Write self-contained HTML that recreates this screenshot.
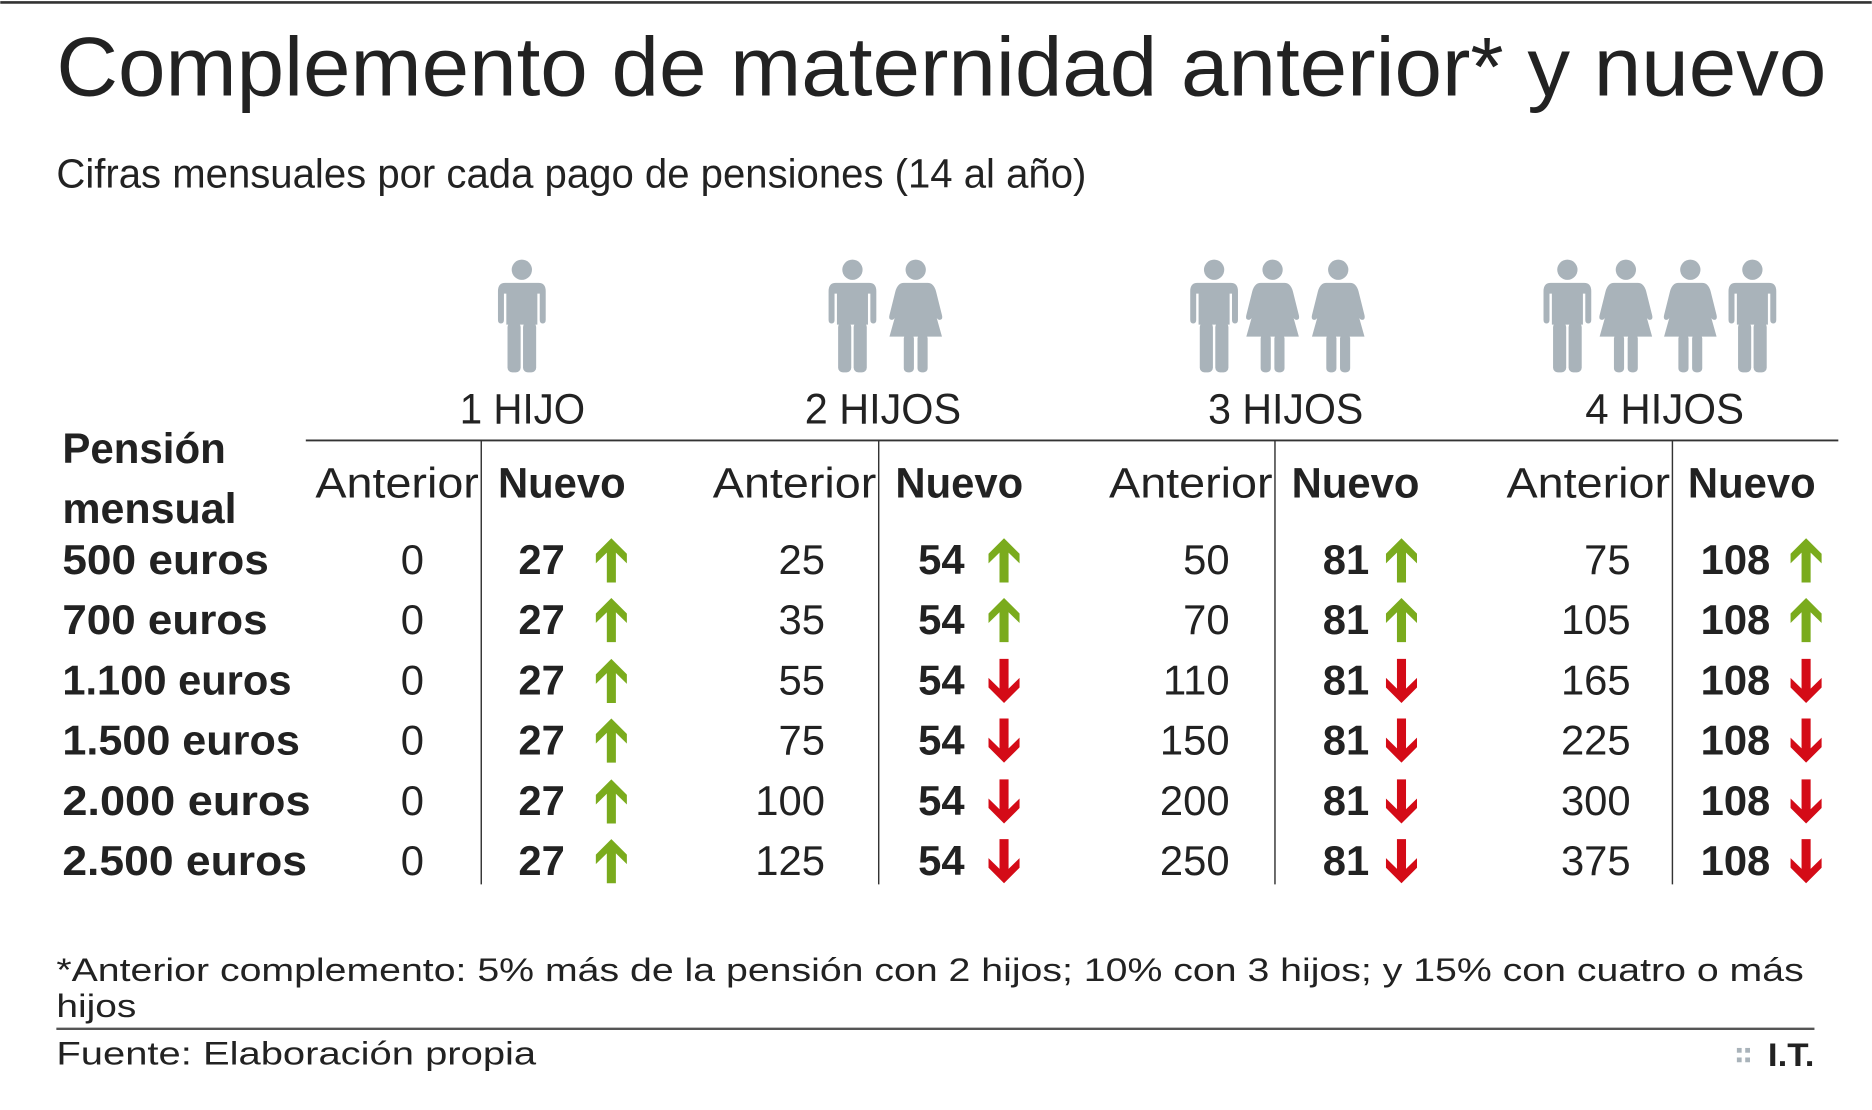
<!DOCTYPE html>
<html><head><meta charset="utf-8"><style>
html,body{margin:0;padding:0;background:#fff;}
svg{display:block;}
text{font-family:"Liberation Sans",sans-serif;fill:#222;}
.b{font-weight:bold;}
</style></head><body>
<svg width="1872" height="1110" viewBox="0 0 1568 930" xmlns="http://www.w3.org/2000/svg">
<defs>
<g id="boy" fill="#a9b3ba">
<circle cx="0" cy="-86" r="8.5"/>
<path d="M-14,-75 Q-20,-75 -20,-68 L-20,-44 Q-20,-41 -17.5,-41 Q-15,-41 -15,-44 L-15,-66 L-13,-66 L-13,-40 L13,-40 L13,-66 L15,-66 L15,-44 Q15,-41 17.5,-41 Q20,-41 20,-44 L20,-68 Q20,-75 14,-75 Z"/>
<rect x="-12" y="-42" width="11" height="42" rx="4"/>
<rect x="1" y="-42" width="11" height="42" rx="4"/>
</g>
<g id="girl" fill="#a9b3ba">
<circle cx="0" cy="-86" r="8.5"/>
<path d="M-10,-75 L10,-75 Q15,-75 17,-68 L22,-48 Q23,-44 20,-44 Q18,-44 17,-47 L13,-62 L22,-30 L-22,-30 L-13,-62 L-17,-47 Q-18,-44 -20,-44 Q-23,-44 -22,-48 L-17,-68 Q-15,-75 -10,-75 Z"/>
<rect x="-10" y="-32" width="8.5" height="32" rx="3.5"/>
<rect x="1.5" y="-32" width="8.5" height="32" rx="3.5"/>
</g>
<path id="up" fill="#7aab1d" d="M0,0 L13,13 L13,21 L3.8,12 L3.8,37 L-3.8,37 L-3.8,12 L-13,21 L-13,13 Z"/>
<path id="dn" fill="#d40b17" d="M0,37 L13,24 L13,16 L3.8,25 L3.8,0 L-3.8,0 L-3.8,25 L-13,16 L-13,24 Z"/>
</defs>
<line x1="0" y1="2" x2="1568" y2="2" stroke="#333" stroke-width="2.2"/>
<text x="47" y="80" font-size="70" textLength="1483" lengthAdjust="spacingAndGlyphs" fill="#2a2a2a">Complemento de maternidad anterior* y nuevo</text>
<text x="47" y="157" font-size="34" textLength="863" lengthAdjust="spacingAndGlyphs" fill="#2a2a2a">Cifras mensuales por cada pago de pensiones (14 al año)</text>

<use href="#boy" x="437" y="312"/>
<use href="#boy" x="714" y="312"/><use href="#girl" x="767" y="312"/>
<use href="#boy" x="1017" y="312"/><use href="#girl" x="1066" y="312"/><use href="#girl" x="1121" y="312"/>
<use href="#boy" x="1313" y="312"/><use href="#girl" x="1362" y="312"/><use href="#girl" x="1416" y="312"/><use href="#boy" x="1468" y="312"/>

<g font-size="36">
<text x="385" y="355" textLength="105" lengthAdjust="spacingAndGlyphs">1 HIJO</text>
<text x="674" y="355" textLength="131" lengthAdjust="spacingAndGlyphs">2 HIJOS</text>
<text x="1012" y="355" textLength="130" lengthAdjust="spacingAndGlyphs">3 HIJOS</text>
<text x="1328" y="355" textLength="133" lengthAdjust="spacingAndGlyphs">4 HIJOS</text>
</g>
<line x1="256" y1="369" x2="1540" y2="369" stroke="#333" stroke-width="1.5"/>
<g stroke="#333" stroke-width="1.2">
<line x1="403" y1="369" x2="403" y2="741"/><line x1="736" y1="369" x2="736" y2="741"/>
<line x1="1068" y1="369" x2="1068" y2="741"/><line x1="1401" y1="369" x2="1401" y2="741"/>
</g>
<g font-size="36">
<text x="264" y="417" textLength="137" lengthAdjust="spacingAndGlyphs">Anterior</text>
<text x="597" y="417" textLength="137" lengthAdjust="spacingAndGlyphs">Anterior</text>
<text x="929" y="417" textLength="137" lengthAdjust="spacingAndGlyphs">Anterior</text>
<text x="1262" y="417" textLength="137" lengthAdjust="spacingAndGlyphs">Anterior</text>
<text class="b" x="417" y="417" textLength="107" lengthAdjust="spacingAndGlyphs">Nuevo</text>
<text class="b" x="750" y="417" textLength="107" lengthAdjust="spacingAndGlyphs">Nuevo</text>
<text class="b" x="1082" y="417" textLength="107" lengthAdjust="spacingAndGlyphs">Nuevo</text>
<text class="b" x="1414" y="417" textLength="107" lengthAdjust="spacingAndGlyphs">Nuevo</text>
<text class="b" x="52" y="388" textLength="137" lengthAdjust="spacingAndGlyphs">Pensión</text>
<text class="b" x="52" y="438" textLength="146" lengthAdjust="spacingAndGlyphs">mensual</text>
</g>
<g font-size="35">
<g class="b">
<text x="52" y="481" textLength="173" lengthAdjust="spacingAndGlyphs">500 euros</text>
<text x="52" y="531" textLength="172" lengthAdjust="spacingAndGlyphs">700 euros</text>
<text x="52" y="582" textLength="192" lengthAdjust="spacingAndGlyphs">1.100 euros</text>
<text x="52" y="632" textLength="199" lengthAdjust="spacingAndGlyphs">1.500 euros</text>
<text x="52" y="683" textLength="208" lengthAdjust="spacingAndGlyphs">2.000 euros</text>
<text x="52" y="733" textLength="205" lengthAdjust="spacingAndGlyphs">2.500 euros</text>
</g>
<g text-anchor="end">
<text x="355" y="481">0</text><text x="355" y="531">0</text><text x="355" y="582">0</text><text x="355" y="632">0</text><text x="355" y="683">0</text><text x="355" y="733">0</text>
<text x="691" y="481">25</text><text x="691" y="531">35</text><text x="691" y="582">55</text><text x="691" y="632">75</text><text x="691" y="683">100</text><text x="691" y="733">125</text>
<text x="1030" y="481">50</text><text x="1030" y="531">70</text><text x="1030" y="582">110</text><text x="1030" y="632">150</text><text x="1030" y="683">200</text><text x="1030" y="733">250</text>
<text x="1366" y="481">75</text><text x="1366" y="531">105</text><text x="1366" y="582">165</text><text x="1366" y="632">225</text><text x="1366" y="683">300</text><text x="1366" y="733">375</text>
</g>
<g class="b" text-anchor="end">
<text x="473" y="481">27</text><text x="473" y="531">27</text><text x="473" y="582">27</text><text x="473" y="632">27</text><text x="473" y="683">27</text><text x="473" y="733">27</text>
<text x="808" y="481">54</text><text x="808" y="531">54</text><text x="808" y="582">54</text><text x="808" y="632">54</text><text x="808" y="683">54</text><text x="808" y="733">54</text>
<text x="1147" y="481">81</text><text x="1147" y="531">81</text><text x="1147" y="582">81</text><text x="1147" y="632">81</text><text x="1147" y="683">81</text><text x="1147" y="733">81</text>
<text x="1483" y="481">108</text><text x="1483" y="531">108</text><text x="1483" y="582">108</text><text x="1483" y="632">108</text><text x="1483" y="683">108</text><text x="1483" y="733">108</text>
</g>
</g>
<g>
<use href="#up" x="512" y="451"/><use href="#up" x="512" y="501"/><use href="#up" x="512" y="552"/><use href="#up" x="512" y="602"/><use href="#up" x="512" y="653"/><use href="#up" x="512" y="703"/>
<use href="#up" x="841" y="451"/><use href="#up" x="841" y="501"/><use href="#dn" x="841" y="552"/><use href="#dn" x="841" y="602"/><use href="#dn" x="841" y="653"/><use href="#dn" x="841" y="703"/>
<use href="#up" x="1174" y="451"/><use href="#up" x="1174" y="501"/><use href="#dn" x="1174" y="552"/><use href="#dn" x="1174" y="602"/><use href="#dn" x="1174" y="653"/><use href="#dn" x="1174" y="703"/>
<use href="#up" x="1513" y="451"/><use href="#up" x="1513" y="501"/><use href="#dn" x="1513" y="552"/><use href="#dn" x="1513" y="602"/><use href="#dn" x="1513" y="653"/><use href="#dn" x="1513" y="703"/>
</g>
<g font-size="27" style="fill:#333">
<text x="47" y="822" textLength="1464" lengthAdjust="spacingAndGlyphs" fill="#333">*Anterior complemento: 5% más de la pensión con 2 hijos; 10% con 3 hijos; y 15% con cuatro o más</text>
<text x="47" y="852" textLength="67" lengthAdjust="spacingAndGlyphs" fill="#333">hijos</text>
<text x="47" y="892" textLength="402" lengthAdjust="spacingAndGlyphs" fill="#333">Fuente: Elaboración propia</text>
</g>
<line x1="47" y1="862" x2="1520" y2="862" stroke="#555" stroke-width="2"/>
<g fill="#a9b3ba">
<rect x="1455" y="878" width="4" height="4"/><rect x="1462" y="878" width="4" height="4"/>
<rect x="1455" y="886" width="4" height="4"/><rect x="1462" y="886" width="4" height="4"/>
</g>
<text class="b" x="1481" y="893" font-size="27" textLength="39" lengthAdjust="spacingAndGlyphs">I.T.</text>
</svg>
</body></html>
